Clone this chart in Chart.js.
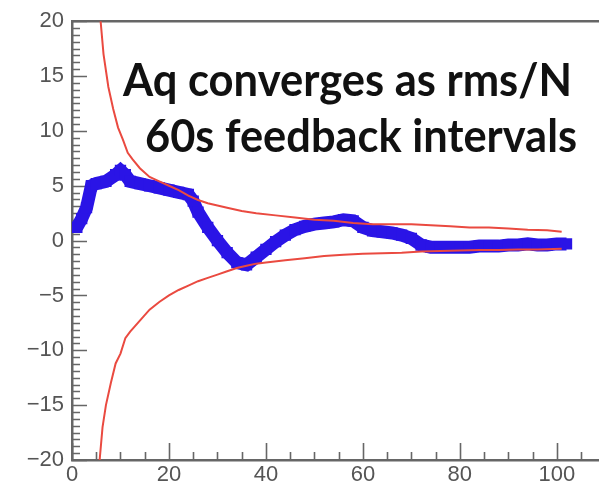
<!DOCTYPE html>
<html>
<head>
<meta charset="utf-8">
<script src="https://cdn.jsdelivr.net/npm/chart.js@4/dist/chart.umd.min.js"></script>
<style>
  html, body { margin: 0; padding: 0; background: #fff; overflow: hidden; }
  #wrap { width: 640px; height: 489px; }
</style>
</head>
<body>
<div id="wrap"><canvas id="aqChart" width="640" height="489"></canvas></div>
<script>
// Aq running average (blue) and the +/- rms/N envelope (red)
const aqX = [1, 2, 3, 4, 5, 7, 9, 10, 11, 12, 14, 16, 18, 20, 22, 24, 25, 26, 28, 30,
  32, 34, 36, 38, 40, 42, 44, 46, 48, 50, 52, 54, 56, 58, 60, 62, 64, 66, 68, 70,
  72, 74, 76, 78, 80, 82, 84, 86, 88, 90, 92, 94, 96, 98, 100, 102];
const aqY = [1.2, 2.0, 3.0, 5.0, 5.2, 5.4, 6.0, 6.4, 6.0, 5.4, 5.2, 5.0, 4.8, 4.6, 4.4, 4.2, 3.6, 2.6, 1.2, 0.0,
  -1.1, -2.0, -2.2, -1.5, -0.8, -0.1, 0.5, 1.0, 1.3, 1.5, 1.6, 1.7, 1.9, 1.8, 1.2, 0.9, 0.8, 0.7, 0.5, 0.2,
  -0.4, -0.6, -0.6, -0.6, -0.6, -0.6, -0.5, -0.5, -0.5, -0.4, -0.4, -0.3, -0.4, -0.4, -0.3, -0.3];

const upperX = [5.9, 6.5, 7.5, 8.5, 9.5, 10.5, 11.5, 12.5, 14, 16, 18, 20, 22, 24, 26, 28, 30, 32, 35, 38,
  42, 46, 50, 54, 58, 62, 66, 70, 74, 78, 82, 86, 90, 94, 98, 101];
const upperY = [20, 17, 14, 12, 10.3, 9.2, 8.0, 7.4, 6.6, 5.8, 5.4, 5.0, 4.6, 4.1, 3.7, 3.4, 3.2, 3.0, 2.7, 2.5,
  2.3, 2.1, 1.9, 1.8, 1.6, 1.5, 1.5, 1.5, 1.4, 1.3, 1.2, 1.2, 1.1, 1.0, 0.95, 0.8];

const lowerX = [5.7, 6.3, 7, 8, 9, 10, 11, 12, 14, 16, 18, 20, 22, 24, 26, 28, 30, 32, 34, 36,
  38, 40, 44, 48, 52, 56, 60, 64, 68, 72, 76, 80, 84, 88, 92, 96, 101];
const lowerY = [-20, -17, -15, -13, -11.2, -10.3, -8.9, -8.3, -7.3, -6.3, -5.6, -5.0, -4.5, -4.1, -3.7, -3.4, -3.1, -2.8, -2.5, -2.3,
  -2.1, -2.0, -1.8, -1.6, -1.4, -1.3, -1.2, -1.15, -1.1, -1.0, -0.95, -0.9, -0.85, -0.85, -0.8, -0.8, -0.75];

const xTicks = [0, 20, 40, 60, 80, 100];
const yTicks = [-20, -15, -10, -5, 0, 5, 10, 15, 20];
const noteLines = ["Aq converges as rms/N", "60s feedback intervals"];

const toPoints = (xs, ys) => xs.map((x, i) => ({ x: x, y: ys[i] }));

const AXIS_COLOR = "#666";
const RED = "#ea4a40";
const BLUE = "#2a14e6";

// ticks drawn on the inside of the frame, ROOT style
const innerTicks = {
  id: "innerTicks",
  beforeDatasetsDraw(chart) {
    const { ctx, chartArea: area, scales: { x, y } } = chart;
    ctx.save();
    ctx.strokeStyle = AXIS_COLOR;
    ctx.lineWidth = 1.6;
    ctx.beginPath();
    // y axis: major every 5, eight minors between
    for (let v = -20; v <= 20 + 1e-9; v += 5 / 8) {
      const py = Math.round(y.getPixelForValue(v)) + 0.5;
      const major = Math.abs(v / 5 - Math.round(v / 5)) < 1e-6;
      ctx.moveTo(area.left, py);
      ctx.lineTo(area.left + (major ? 15 : 8), py);
    }
    // x axis: major every 20, minor every 5
    for (let v = 0; v <= x.max; v += 5) {
      const px = Math.round(x.getPixelForValue(v)) + 0.5;
      const major = v % 20 === 0;
      ctx.moveTo(px, area.bottom);
      ctx.lineTo(px, area.bottom - (major ? 17 : 8));
    }
    ctx.stroke();
    // top edge of the frame
    ctx.lineWidth = 2.5;
    ctx.beginPath();
    ctx.moveTo(area.left, area.top);
    ctx.lineTo(area.right, area.top);
    ctx.stroke();
    ctx.restore();
  }
};

// two-line note inside the plot
const noteText = {
  id: "noteText",
  afterDatasetsDraw(chart) {
    const { ctx } = chart;
    const spots = [
      { left: 123, base: 96, width: 449 },
      { left: 145, base: 152, width: 432 }
    ];
    ctx.save();
    ctx.fillStyle = "#111";
    ctx.font = "700 46px Lato";
    ctx.textBaseline = "alphabetic";
    noteLines.forEach((line, i) => {
      const s = spots[i];
      const w = ctx.measureText(line).width;
      ctx.save();
      ctx.translate(s.left, s.base);
      ctx.scale(s.width / w, 1);
      ctx.fillText(line, 0, 0);
      ctx.restore();
    });
    ctx.restore();
  }
};

const tickFont = { family: "'Liberation Sans', Arial", size: 22 };

new Chart(document.getElementById("aqChart"), {
  type: "line",
  data: {
    datasets: [
      {
        data: toPoints(upperX, upperY),
        borderColor: RED,
        borderWidth: 2,
        pointRadius: 0,
        tension: 0
      },
      {
        data: toPoints(lowerX, lowerY),
        borderColor: RED,
        borderWidth: 2,
        pointRadius: 0,
        tension: 0
      },
      {
        data: toPoints(aqX, aqY),
        borderColor: BLUE,
        backgroundColor: BLUE,
        borderWidth: 13,
        pointStyle: "rect",
        pointRadius: 8,
        pointBorderWidth: 0,
        tension: 0
      }
    ]
  },
  options: {
    responsive: false,
    animation: false,
    devicePixelRatio: 1,
    layout: { padding: { top: 20, right: 25, left: 0, bottom: 0 } },
    plugins: { legend: { display: false }, tooltip: { enabled: false } },
    scales: {
      x: {
        type: "linear",
        min: 0,
        max: 112,
        grid: { display: false, drawTicks: false },
        border: { display: true, color: AXIS_COLOR, width: 2.5 },
        afterBuildTicks: (scale) => { scale.ticks = xTicks.map(v => ({ value: v })); },
        afterFit: (scale) => { scale.height = 29; },
        ticks: { font: tickFont, color: "#555", padding: 2, maxRotation: 0 }
      },
      y: {
        type: "linear",
        min: -20,
        max: 20,
        grid: { display: false, drawTicks: false },
        border: { display: true, color: AXIS_COLOR, width: 2.5 },
        afterBuildTicks: (scale) => { scale.ticks = yTicks.map(v => ({ value: v })); },
        afterFit: (scale) => { scale.width = 72; },
        ticks: {
          font: tickFont,
          color: "#555",
          padding: 8,
          callback: (v) => (v < 0 ? "\u2212" + Math.abs(v) : String(v))
        }
      }
    }
  },
  plugins: [innerTicks, noteText]
});
</script>
</body>
</html>
